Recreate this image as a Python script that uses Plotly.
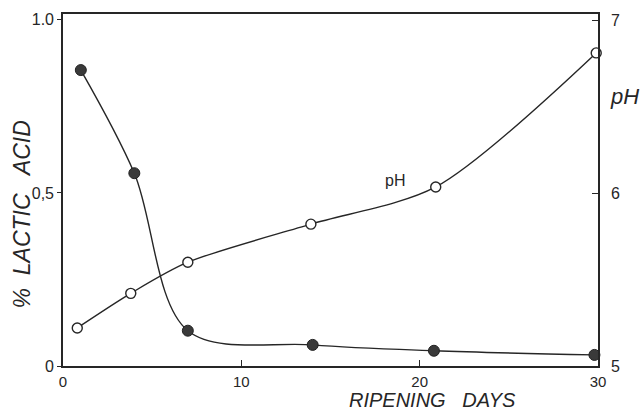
import plotly.graph_objects as go

days_lactic = [1, 4, 7, 14, 20.8, 29.8]
lactic_acid = [0.855, 0.557, 0.102, 0.061, 0.044, 0.032]

days_ph = [0.8, 3.8, 7, 13.9, 20.9, 29.9]
ph_values = [5.22, 5.42, 5.60, 5.82, 6.035, 6.81]

x_ticks = [0, 10, 20, 30]
x_ticktext = ["0", "10", "20", "30"]
y_ticks = [0, 0.5, 1.0]
y_ticktext = ["0", "0,5", "1.0"]
y2_ticks = [5, 6, 7]
y2_ticktext = ["5", "6", "7"]

ink = "#262626"
font_family = "Liberation Sans, Arial, sans-serif"

fig = go.Figure()
fig.add_trace(go.Scatter(
    x=days_lactic, y=lactic_acid, mode="lines+markers",
    line=dict(color=ink, width=1.4, shape="spline", smoothing=0.95),
    marker=dict(size=11, color="#3a3a3a", line=dict(color="#222", width=1)),
    cliponaxis=False, showlegend=False, yaxis="y"))
fig.add_trace(go.Scatter(
    x=days_ph, y=ph_values, mode="lines+markers",
    line=dict(color=ink, width=1.4, shape="spline", smoothing=0.8),
    marker=dict(size=10, color="white", line=dict(color=ink, width=1.4)),
    cliponaxis=False, showlegend=False, yaxis="y2"))

fig.update_layout(
    width=643, height=412,
    margin=dict(l=63, r=45, t=14, b=46),
    paper_bgcolor="white", plot_bgcolor="white",
    font=dict(family=font_family, color=ink, size=16),
    xaxis=dict(range=[0, 30], tickvals=x_ticks, ticktext=x_ticktext,
               ticks="inside", ticklen=6, tickcolor=ink, tickwidth=1.2,
               showline=True, linecolor=ink, linewidth=1.6, mirror=True,
               showgrid=False, zeroline=False, ticklabelstandoff=1,
               tickfont=dict(size=15, color=ink)),
    yaxis=dict(range=[0, 1.017], tickvals=y_ticks, ticktext=y_ticktext,
               ticks="outside", ticklen=4, tickcolor=ink, tickwidth=1.2,
               showline=True, linecolor=ink, linewidth=1.6,
               showgrid=False, zeroline=False,
               tickfont=dict(size=16, color=ink)),
    yaxis2=dict(range=[5, 7.035], tickvals=y2_ticks, ticktext=y2_ticktext,
                overlaying="y", side="right",
                ticks="inside", ticklen=6, tickcolor=ink, tickwidth=1.2,
                showline=True, linecolor=ink, linewidth=1.6,
                showgrid=False, zeroline=False, ticklabelstandoff=8,
                tickfont=dict(size=16, color=ink)),
    annotations=[
        dict(text="%  LACTIC   ACID", xref="paper", yref="paper",
             x=-0.077, y=0.43, xanchor="center", yanchor="middle",
             textangle=-90, showarrow=False,
             font=dict(size=23, style="italic", color=ink)),
        dict(text="RIPENING   DAYS", xref="paper", yref="paper",
             x=0.69, y=-0.0966, xanchor="center", yanchor="middle",
             showarrow=False,
             font=dict(size=20, style="italic", color=ink)),
        dict(text="pH", xref="paper", yref="paper",
             x=1.05, y=0.765, xanchor="center", yanchor="middle",
             showarrow=False,
             font=dict(size=22, style="italic", color=ink)),
        dict(text="pH", xref="x", yref="y2",
             x=18.6, y=6.07, xanchor="center", yanchor="middle",
             showarrow=False,
             font=dict(size=16, color=ink)),
    ],
)

fig.write_html("out.html")
